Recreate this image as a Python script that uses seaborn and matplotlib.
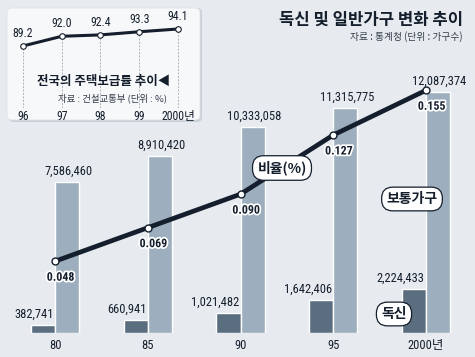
import numpy as np
import pandas as pd
import matplotlib
matplotlib.use('Agg')
import matplotlib.pyplot as plt
import matplotlib.patheffects as pe
from matplotlib.patches import FancyBboxPatch
import seaborn as sns

# 독신 및 일반가구 변화 추이 (통계청)
years = ['80', '85', '90', '95', '2000년']
single = [382741, 660941, 1021482, 1642406, 2224433]
general = [7586460, 8910420, 10333058, 11315775, 12087374]
ratio = [0.048, 0.069, 0.090, 0.127, 0.155]

# 전국의 주택보급률 추이 (건설교통부)
hs_years = ['96', '97', '98', '99', '2000년']
hs_rate = [89.2, 92.0, 92.4, 93.3, 94.1]

sns.set_theme(style='white')
NUM = ['Roboto Condensed', 'DejaVu Sans', 'Noto Sans CJK KR']
KR = ['Noto Sans CJK KR', 'DejaVu Sans']
plt.rcParams['font.family'] = NUM
plt.rcParams['font.stretch'] = 'condensed'

bg = '#e7ebef'
dark = '#5a6e80'
light = '#9dafbe'
navy = '#141e2c'

df = pd.DataFrame({
    'year': years * 2,
    'count': single + general,
    'type': ['독신'] * len(years) + ['보통가구'] * len(years),
})

W, H = 475, 357
fig = plt.figure(figsize=(W / 100, H / 100), dpi=100)
fig.patch.set_facecolor(bg)


def fx(px):
    return px / W


def fy(py):
    return 1 - py / H


ax = fig.add_axes([0, 24 / H, 1, 333 / H])
ax.set_facecolor(bg)
sns.barplot(data=df, x='year', y='count', hue='type', order=years,
            hue_order=['독신', '보통가구'], palette=[dark, light],
            width=0.52, gap=0, saturation=1, legend=False, ax=ax)
ax.set_xlim(-0.593, 4.528)
ax.set_ylim(0, 16.73e6)
for s in ax.spines.values():
    s.set_visible(False)
ax.set_yticks([])
ax.set_xlabel('')
ax.set_ylabel('')
ax.tick_params(axis='x', length=0, pad=4, labelsize=9, colors=navy)
ax.set_xticks(range(len(years)))
ax.set_xticklabels(years)

for i, (d, g) in enumerate(zip(single, general)):
    ax.annotate(f'{g:,}', (i + 0.13, g), xytext=(1, 3), textcoords='offset points',
                ha='center', va='bottom', fontsize=9, color=navy)
    ax.annotate(f'{d:,}', (i, d), xytext=(-1, 3), textcoords='offset points',
                ha='right', va='bottom', fontsize=9, color=navy)

ax2 = ax.twinx()
sns.lineplot(x=np.arange(len(years)), y=ratio, ax=ax2, color=navy, lw=3.4,
             marker='o', markersize=5, markerfacecolor='white',
             markeredgecolor=navy, markeredgewidth=1)
ax2.set_xlim(-0.593, 4.528)
ax2.set_ylim(0.0031, 0.2115)
ax2.axis('off')
halo = [pe.withStroke(linewidth=2.5, foreground='white')]
for i, r in enumerate(ratio):
    ax2.annotate(f'{r:.3f}', (i, r), xytext=(4, -11.5), textcoords='offset points',
                 ha='center', va='center', fontsize=8.6, fontweight='bold',
                 color=navy, path_effects=halo)

# inset box
shadow = FancyBboxPatch((fx(9), fy(122)), fx(193), 114 / H,
                        boxstyle='round,pad=0,rounding_size=0.012',
                        transform=fig.transFigure, fc='#c9d0d6', ec='none', zorder=1)
box = FancyBboxPatch((fx(7), fy(120)), fx(193), 112 / H,
                     boxstyle='round,pad=0,rounding_size=0.012',
                     transform=fig.transFigure, fc='#f7f8fa', ec='#dde2e6', lw=0.6, zorder=1)
fig.patches.extend([shadow, box])

ins = fig.add_axes([fx(7), fy(108), fx(193), 100 / H], zorder=2)
ins.patch.set_alpha(0)
x_h = np.arange(len(hs_years))
ins.vlines(x_h, 71.33, hs_rate, colors='#a9b3bc', linestyles=(0, (2, 1.5)), lw=0.7)
sns.lineplot(x=x_h, y=hs_rate, ax=ins, color=navy, lw=2.2, marker='o', markersize=4,
             markerfacecolor='white', markeredgecolor=navy, markeredgewidth=0.8)
ins.set_xlim(-0.413, 4.568)
ins.set_ylim(71.33, 100.15)
for s in ins.spines.values():
    s.set_visible(False)
ins.set_yticks([])
ins.set_xticks(x_h)
ins.set_xticklabels(hs_years)
ins.tick_params(axis='x', length=0, pad=1.5, labelsize=8.5, colors=navy)
for i, v in enumerate(hs_rate):
    ins.annotate(f'{v:.1f}', (i, v), xytext=(0, 4.5), textcoords='offset points',
                 ha='center', va='bottom', fontsize=8.5, color=navy)

fig.text(fx(104), fy(81), '전국의 주택보급률 추이◀', ha='center', va='center',
         fontsize=9, fontweight='bold', color=navy, family=KR, zorder=3)
fig.text(fx(113), fy(98), '자료 : 건설교통부 (단위 : %)', ha='center', va='center',
         fontsize=6.8, color='#333c48', family=KR, zorder=3)

# titles
fig.text(fx(463), fy(20), '독신 및 일반가구 변화 추이', ha='right', va='center',
         fontsize=12, fontweight='bold', color=navy, family=KR)
fig.text(fx(463), fy(37), '자료 : 통계청 (단위 : 가구수)', ha='right', va='center',
         fontsize=7, color='#333c48', family=KR)

# rounded tags
tag = dict(boxstyle='round,pad=0.35,rounding_size=0.8', fc='white', ec=navy, lw=0.9)
for txt, px, py in [('비율(%)', 282, 168), ('보통가구', 412, 199), ('독신', 394, 314)]:
    fig.text(fx(px), fy(py), txt, ha='center', va='center', fontsize=10,
             fontweight='bold', color=navy, family=KR, bbox=tag)

fig.savefig('out.png', dpi=100, facecolor=bg)
